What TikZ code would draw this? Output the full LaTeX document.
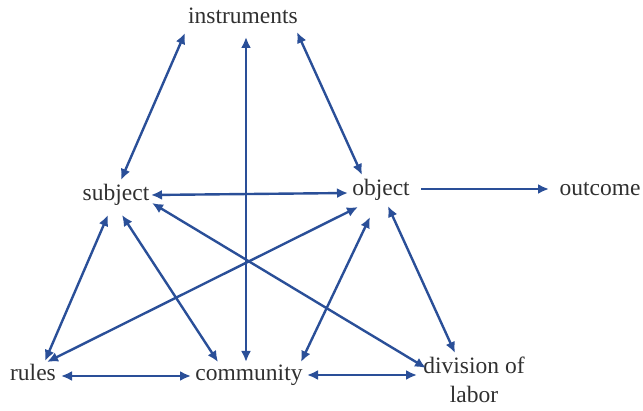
\documentclass[tikz,border=0pt]{standalone}
\usepackage{fontspec}
\setmainfont{Liberation Serif}
\usetikzlibrary{arrows.meta}
\definecolor{arrblue}{HTML}{2A4F98}
\definecolor{txt}{HTML}{303030}
\tikzset{
  lbl/.style={inner sep=0pt, text=txt, font=\fontsize{23.5}{29}\selectfont, anchor=base},
  biarr/.style={draw=arrblue, line width=2.4pt, {Latex[length=11pt,width=10pt]}-{Latex[length=11pt,width=10pt]}},
  oarr/.style={draw=arrblue, line width=2.4pt, -{Latex[length=11pt,width=10pt]}}
}
\begin{document}
\begin{tikzpicture}[x=1pt,y=-1pt]
\useasboundingbox (0,0) rectangle (643,411);
\node[lbl] (ins) at (243,24) {instruments};
\node[lbl] (sub) at (116,201) {subject};
\node[lbl] (obj) at (381,196) {object};
\node[lbl] (out) at (600,196) {outcome};
\node[lbl] (rul) at (33,381) {rules};
\node[lbl] (com) at (249,381) {community};
\node[lbl, anchor=north, align=center] (div) at (474,357) {division of\\labor};

\draw[biarr] ([shift={(-58,9)}]ins.base) -- ([shift={(5,-21)}]sub.base);
\draw[biarr] ([shift={(3,13)}]ins.base) -- ([shift={(-3,-19)}]com.base);
\draw[biarr] ([shift={(54,8)}]ins.base) -- ([shift={(-19,-21)}]obj.base);
\draw[biarr] ([shift={(35,-6)}]sub.base) -- ([shift={(-33,-3)}]obj.base);
\draw[oarr] ([shift={(40,-7)}]obj.base) -- ([shift={(-51,-7)}]out.base);
\draw[biarr] ([shift={(-8,14)}]sub.base) -- ([shift={(12,-20)}]rul.base);
\draw[biarr] ([shift={(6,14)}]sub.base) -- ([shift={(-31,-19)}]com.base);
\draw[biarr] ([shift={(36,2)}]sub.base) -- ([shift={(-48,11)}]div.north);
\draw[biarr] ([shift={(-23,11)}]obj.base) -- ([shift={(14,-19)}]rul.base);
\draw[biarr] ([shift={(-11,21)}]obj.base) -- ([shift={(52,-19)}]com.base);
\draw[biarr] ([shift={(7,10)}]obj.base) -- ([shift={(-19,-4)}]div.north);
\draw[biarr] ([shift={(28,-5)}]rul.base) -- ([shift={(-58,-5)}]com.base);
\draw[biarr] ([shift={(58,-6)}]com.base) -- ([shift={(-57,18)}]div.north);
\end{tikzpicture}
\end{document}
